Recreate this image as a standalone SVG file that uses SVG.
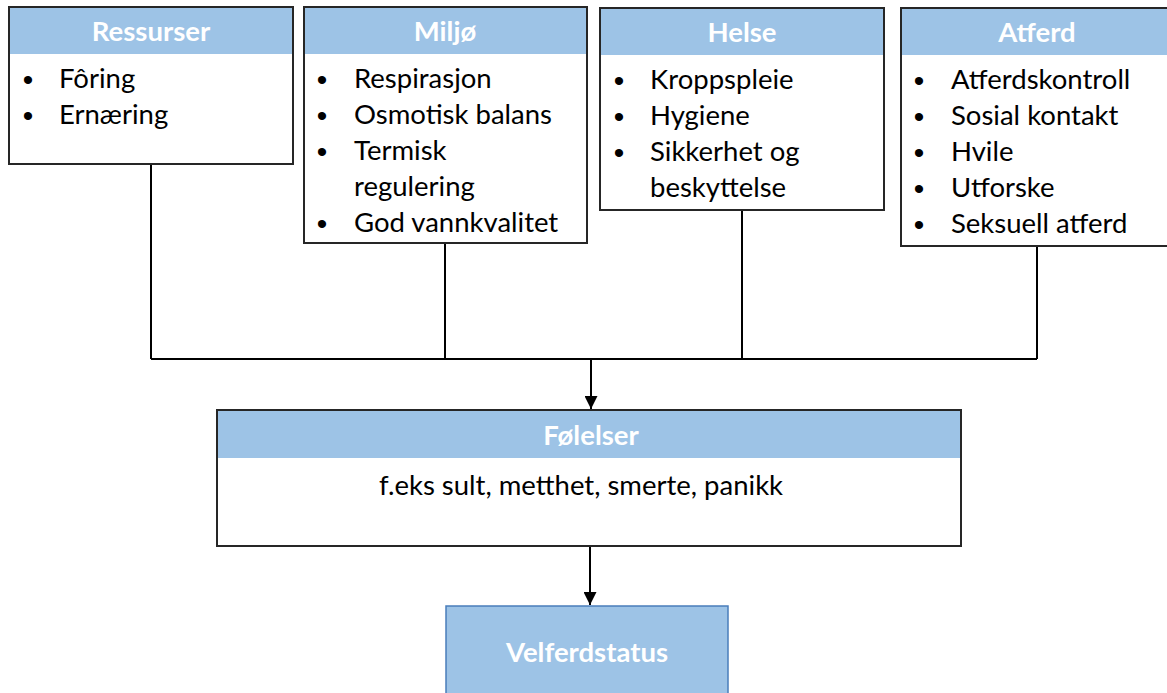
<svg xmlns="http://www.w3.org/2000/svg" width="1167" height="693" viewBox="0 0 1167 693">
<style>
.box{fill:#fff;stroke:#262626;stroke-width:2}
.hdr{fill:#9DC3E6}
.ht{font-family:Lato,"Liberation Sans",sans-serif;font-weight:bold;font-size:27.5px;fill:#fff;text-anchor:middle}
.t{font-family:Lato,"Liberation Sans",sans-serif;font-size:27.5px;fill:#000}
.b{font-family:"Liberation Sans",sans-serif;font-size:30px;fill:#000;text-anchor:middle}
.c{stroke:#000;stroke-width:2;fill:none}
</style>
<defs>
<marker id="ah" viewBox="0 0 10 10" refX="10" refY="5" markerWidth="13" markerHeight="13" markerUnits="userSpaceOnUse" orient="auto">
<path d="M0,0 L10,5 L0,10 z" fill="#000"/>
</marker>
</defs>
<g id="connectors">
<path class="c" d="M151,164 V359 M445,243 V359 M742,210 V359 M1037,246 V359 M151,359 H1037"/>
<path class="c" d="M591,359 V409" marker-end="url(#ah)"/>
<path class="c" d="M590,546 V605" marker-end="url(#ah)"/>
</g>
<g id="ressurser">
<rect class="box" x="9" y="7" width="284" height="157"/>
<rect class="hdr" x="10" y="8" width="282" height="46"/>
<text class="ht" x="151" y="41">Ressurser</text>
<text class="b" x="28" y="90">•</text><text class="t" x="59" y="88">Fôring</text>
<text class="b" x="28" y="126">•</text><text class="t" x="59" y="124">Ernæring</text>
</g>
<g id="miljo">
<rect class="box" x="304" y="7" width="283" height="236"/>
<rect class="hdr" x="305" y="8" width="281" height="46"/>
<text class="ht" x="445" y="41">Miljø</text>
<text class="b" x="322" y="90">•</text><text class="t" x="354" y="88">Respirasjon</text>
<text class="b" x="322" y="126">•</text><text class="t" x="354" y="124">Osmotisk balans</text>
<text class="b" x="322" y="162">•</text><text class="t" x="354" y="160">Termisk</text>
<text class="t" x="354" y="196">regulering</text>
<text class="b" x="322" y="234">•</text><text class="t" x="354" y="232">God vannkvalitet</text>
</g>
<g id="helse">
<rect class="box" x="600" y="8" width="284" height="202"/>
<rect class="hdr" x="601" y="9" width="282" height="46"/>
<text class="ht" x="742" y="42">Helse</text>
<text class="b" x="619" y="91">•</text><text class="t" x="650" y="89">Kroppspleie</text>
<text class="b" x="619" y="127">•</text><text class="t" x="650" y="125">Hygiene</text>
<text class="b" x="619" y="163">•</text><text class="t" x="650" y="161">Sikkerhet og</text>
<text class="t" x="650" y="197">beskyttelse</text>
</g>
<g id="atferd">
<rect class="box" x="901" y="8" width="285" height="238"/>
<rect class="hdr" x="902" y="9" width="283" height="46"/>
<text class="ht" x="1037" y="42">Atferd</text>
<text class="b" x="919" y="91">•</text><text class="t" x="951" y="89">Atferdskontroll</text>
<text class="b" x="919" y="127">•</text><text class="t" x="951" y="125">Sosial kontakt</text>
<text class="b" x="919" y="163">•</text><text class="t" x="951" y="161">Hvile</text>
<text class="b" x="919" y="199">•</text><text class="t" x="951" y="197">Utforske</text>
<text class="b" x="919" y="235">•</text><text class="t" x="951" y="233">Seksuell atferd</text>
</g>
<g id="folelser">
<rect class="box" x="217" y="410" width="744" height="136"/>
<rect class="hdr" x="218" y="411" width="742" height="47"/>
<text class="ht" x="591" y="445">Følelser</text>
<text class="t" x="581" y="495" text-anchor="middle">f.eks sult, metthet, smerte, panikk</text>
</g>
<g id="velferdstatus">
<rect x="446" y="606" width="282" height="95" fill="#9DC3E6" stroke="#4A7EBB" stroke-width="1.5"/>
<text class="ht" x="587" y="662">Velferdstatus</text>
</g>
</svg>
